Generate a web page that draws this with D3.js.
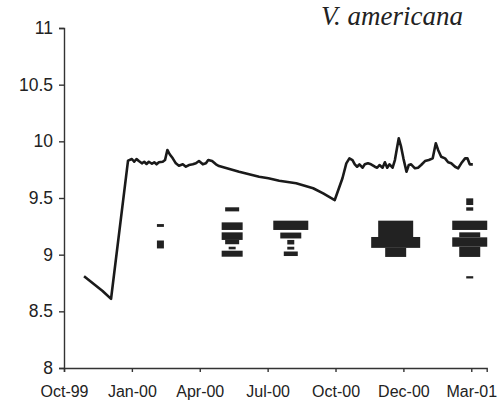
<!DOCTYPE html>
<html>
<head>
<meta charset="utf-8">
<script src="https://cdn.jsdelivr.net/npm/d3@7"></script>
<style>
  html, body { margin: 0; padding: 0; background: #fff; }
  svg { display: block; }
  .axis text { font-family: "Liberation Sans", Arial, sans-serif; font-size: 16px; fill: #222; }
  .axis.y text { font-size: 17.5px; }
  .axis path, .axis line { stroke: #333; stroke-width: 1.4; }
</style>
</head>
<body>
<svg id="chart" width="502" height="406"></svg>
<script>
// Study period starts mid-October 1999; all dates are day offsets from it.
const startDate = new Date(1999, 9, 16);
const endDay = 548;

// Axis ticks
const tickDays = [0, 88, 176, 264, 352, 440, 528];
const tickLabels = ["Oct-99", "Jan-00", "Apr-00", "Jul-00", "Oct-00", "Dec-00", "Mar-01"];
const yTicks = [8, 8.5, 9, 9.5, 10, 10.5, 11];
const yLabels = ["8", "8.5", "9", "9.5", "10", "10.5", "11"];

// Continuous record (line)
const lineDays = [26, 50, 61, 83, 88, 91, 94, 97, 101, 104, 107, 110, 114, 117, 120, 123,
  128, 131, 134, 137, 141, 145, 149, 154, 158, 162, 167, 171, 175, 180, 184, 187, 192, 197,
  201, 227, 253, 265, 279, 301, 323, 336, 351, 361, 366, 370, 374, 377, 380, 383, 387, 390,
  394, 398, 403, 406, 409, 413, 416, 419, 422, 426, 429, 432, 434, 437, 440, 444, 447, 450,
  455, 459, 463, 468, 473, 478, 482, 485, 489, 494, 498, 502, 507, 511, 515, 520, 523, 526, 530];
const lineValues = [8.81, 8.68, 8.61, 9.83, 9.844, 9.82, 9.844, 9.826, 9.806, 9.82, 9.80, 9.82,
  9.802, 9.815, 9.797, 9.815, 9.82, 9.835, 9.924, 9.886, 9.85, 9.806, 9.785, 9.797, 9.776,
  9.791, 9.797, 9.806, 9.826, 9.797, 9.806, 9.835, 9.826, 9.797, 9.782, 9.732, 9.688, 9.674,
  9.653, 9.63, 9.586, 9.541, 9.482, 9.674, 9.806, 9.85, 9.835, 9.797, 9.776, 9.797, 9.767,
  9.797, 9.806, 9.797, 9.776, 9.767, 9.791, 9.767, 9.815, 9.767, 9.797, 9.767, 9.835, 9.953,
  10.027, 9.953, 9.85, 9.732, 9.791, 9.797, 9.762, 9.767, 9.791, 9.826, 9.835, 9.85, 9.983,
  9.924, 9.864, 9.85, 9.815, 9.806, 9.776, 9.762, 9.806, 9.85, 9.85, 9.797, 9.797];

// Sampled size classes: per sample, rows of [upper, lower, count]
const sampleDays = [125, 218, 294, 430, 526];
const sampleBins = [
  [[9.27, 9.245, 1], [9.125, 9.055, 1]],
  [[9.418, 9.382, 2], [9.285, 9.218, 3], [9.197, 9.13, 3], [9.13, 9.092, 2],
   [9.07, 9.047, 1], [9.035, 8.982, 3]],
  [[9.30, 9.218, 5], [9.195, 9.143, 3], [9.13, 9.09, 1], [9.07, 9.045, 1], [9.028, 8.988, 2]],
  [[9.30, 9.156, 5], [9.156, 9.06, 7], [9.06, 8.98, 3]],
  [[9.497, 9.438, 1], [9.418, 9.388, 1], [9.30, 9.218, 5], [9.197, 9.153, 3],
   [9.153, 9.07, 5], [9.07, 8.98, 3], [8.81, 8.79, 1]]
];

const svg = d3.select("#chart");
const day = d => d3.timeDay.offset(startDate, d);

const x = d3.scaleTime().domain([day(0), day(endDay)]).range([64, 486.7]);
const y = d3.scaleLinear().domain([8, 11]).range([368, 28]);
const w = d3.scaleLinear().domain([0, 7]).range([0, 49]);

// Axes
svg.append("g").attr("class", "axis x")
  .attr("transform", "translate(0,368)")
  .call(d3.axisBottom(x)
    .tickValues(tickDays.map(day))
    .tickFormat((d, i) => tickLabels[i])
    .tickSizeOuter(0).tickSize(4).tickPadding(14));

svg.append("g").attr("class", "axis y")
  .attr("transform", "translate(64,0)")
  .call(d3.axisLeft(y)
    .tickValues(yTicks)
    .tickFormat((d, i) => yLabels[i])
    .tickSizeOuter(0).tickSize(5).tickPadding(6));

// Size-class bars, centred on each sample date
const rows = [];
sampleBins.forEach((bins, i) => bins.forEach(b => rows.push({ d: sampleDays[i], top: b[0], bot: b[1], n: b[2] })));
svg.append("g").selectAll("rect").data(rows).join("rect")
  .attr("x", r => x(day(r.d)) - w(r.n) / 2)
  .attr("width", r => w(r.n))
  .attr("y", r => y(r.top))
  .attr("height", r => y(r.bot) - y(r.top))
  .attr("fill", "#222");

// Continuous line
const pts = lineDays.map((d, i) => [d, lineValues[i]]);
svg.append("path")
  .datum(pts)
  .attr("fill", "none")
  .attr("stroke", "#1a1a1a")
  .attr("stroke-width", 2.6)
  .attr("stroke-linejoin", "round")
  .attr("d", d3.line().x(p => x(day(p[0]))).y(p => y(p[1])));

// Species name
svg.append("text")
  .attr("x", 463).attr("y", 25)
  .attr("text-anchor", "end")
  .attr("font-family", "'Liberation Serif', 'Times New Roman', serif")
  .attr("font-style", "italic")
  .attr("font-size", 27)
  .attr("fill", "#222")
  .text("V. americana");
</script>
</body>
</html>
